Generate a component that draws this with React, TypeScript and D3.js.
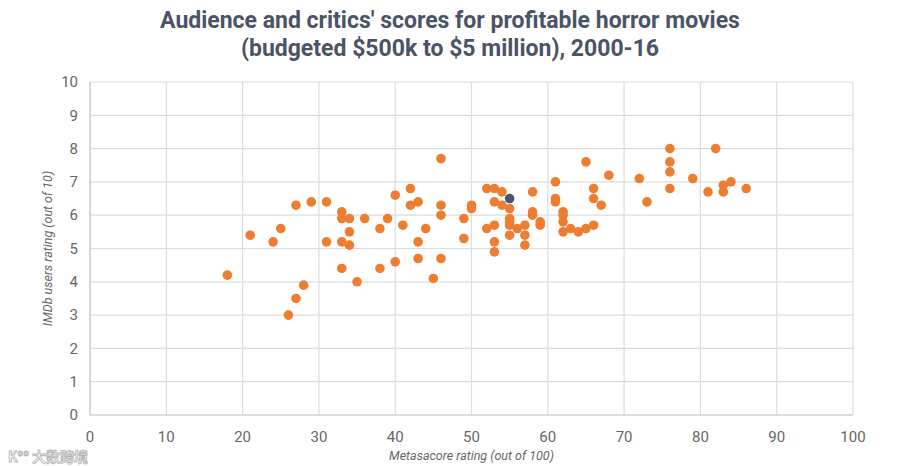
import { useEffect, useRef } from "react"
import * as d3 from "d3"

// metascore (out of 100) and IMDb rating (out of 10), one entry per film
const metascores = [
  18, 21, 24, 25, 26, 27, 27, 28, 29, 31, 31, 33, 33, 33, 33, 34, 34, 34, 35, 36,
  38, 38, 39, 40, 40, 41, 42, 42, 43, 43, 43, 44, 45, 46, 46, 46, 46, 49, 49, 50,
  50, 52, 52, 53, 53, 53, 53, 53, 54, 54, 55, 55, 55, 55, 55, 55, 56, 57, 57, 57,
  58, 58, 58, 59, 59, 61, 61, 61, 62, 62, 62, 62, 63, 64, 65, 65, 66, 66, 66, 67,
  68, 72, 73, 76, 76, 76, 76, 79, 81, 82, 83, 83, 84, 86,
]
const imdbRatings = [
  4.2, 5.4, 5.2, 5.6, 3.0, 3.5, 6.3, 3.9, 6.4, 6.4, 5.2, 6.1, 5.9, 5.2, 4.4, 5.9, 5.5, 5.1, 4.0, 5.9,
  5.6, 4.4, 5.9, 6.6, 4.6, 5.7, 6.8, 6.3, 6.4, 5.2, 4.7, 5.6, 4.1, 7.7, 6.3, 6.0, 4.7, 5.9, 5.3, 6.3,
  6.2, 6.8, 5.6, 6.8, 6.4, 5.7, 5.2, 4.9, 6.7, 6.3, 6.5, 6.2, 5.9, 5.8, 5.7, 5.4, 5.6, 5.7, 5.4, 5.1,
  6.7, 6.1, 6.0, 5.8, 5.7, 7.0, 6.5, 6.4, 6.1, 6.0, 5.8, 5.5, 5.6, 5.5, 5.6, 7.6, 5.7, 6.8, 6.5, 6.3,
  7.2, 7.1, 6.4, 8.0, 7.6, 7.3, 6.8, 7.1, 6.7, 8.0, 6.9, 6.7, 7.0, 6.8,
]
// index of the film drawn in the dark highlight colour
const highlightIndex = 50

const xTicks = [0, 10, 20, 30, 40, 50, 60, 70, 80, 90, 100]
const yTicks = [0, 1, 2, 3, 4, 5, 6, 7, 8, 9, 10]

const titleLines = [
  "Audience and critics' scores for profitable horror movies",
  "(budgeted $500k to $5 million), 2000-16",
]

export default function App() {
  const ref = useRef<HTMLDivElement>(null)

  useEffect(() => {
    document.body.style.margin = "0"
    const container = d3.select(ref.current)
    container.selectAll("*").remove()

    const width = 900
    const height = 466
    const margin = { top: 82, right: 47, bottom: 51, left: 90 }

    const svg = container
      .append("svg")
      .attr("width", width)
      .attr("height", height)
      .style("display", "block")
      .style("background", "#ffffff")
      .style("font-family", "Roboto, 'Noto Sans', sans-serif")

    const x = d3.scaleLinear().domain([0, 100]).range([margin.left, width - margin.right])
    const y = d3.scaleLinear().domain([0, 10]).range([height - margin.bottom, margin.top])

    // Title
    svg.append("text")
      .attr("x", 450)
      .attr("y", 28)
      .attr("text-anchor", "middle")
      .attr("font-size", 23)
      .attr("font-weight", "bold")
      .attr("fill", "#4a5466")
      .selectAll("tspan")
      .data(titleLines)
      .join("tspan")
      .attr("x", 450)
      .attr("dy", (_, i) => (i === 0 ? 0 : 28))
      .text(d => d)

    // Grid
    const grid = svg.append("g")
    grid.selectAll("line.h")
      .data(yTicks.slice(1))
      .join("line")
      .attr("class", "h")
      .attr("x1", x(0))
      .attr("x2", x(100))
      .attr("y1", d => y(d))
      .attr("y2", d => y(d))
      .attr("stroke", "#dcdcdc")
      .attr("stroke-width", 1.2)

    grid.selectAll("line.v")
      .data(xTicks.slice(1))
      .join("line")
      .attr("class", "v")
      .attr("x1", d => x(d))
      .attr("x2", d => x(d))
      .attr("y1", y(0))
      .attr("y2", y(10))
      .attr("stroke", "#dcdcdc")
      .attr("stroke-width", 1.2)

    // Axis lines
    svg.append("line")
      .attr("x1", x(0)).attr("x2", x(100))
      .attr("y1", y(0)).attr("y2", y(0))
      .attr("stroke", "#bdbdbd").attr("stroke-width", 1.2)
    svg.append("line")
      .attr("x1", x(0)).attr("x2", x(0))
      .attr("y1", y(0)).attr("y2", y(10))
      .attr("stroke", "#bdbdbd").attr("stroke-width", 1.2)

    // Tick labels
    svg.append("g")
      .selectAll("text")
      .data(yTicks)
      .join("text")
      .attr("x", x(0) - 12)
      .attr("y", d => y(d))
      .attr("dy", "0.35em")
      .attr("text-anchor", "end")
      .attr("font-size", 15)
      .attr("fill", "#666666")
      .text(d => d)

    svg.append("g")
      .selectAll("text")
      .data(xTicks)
      .join("text")
      .attr("x", d => x(d))
      .attr("y", y(0) + 27)
      .attr("text-anchor", "middle")
      .attr("font-size", 15)
      .attr("fill", "#666666")
      .text(d => d)

    // Axis titles
    svg.append("text")
      .attr("x", (x(0) + x(100)) / 2)
      .attr("y", height - 6)
      .attr("text-anchor", "middle")
      .attr("font-size", 12.5)
      .attr("font-style", "italic")
      .attr("fill", "#666666")
      .text("Metasacore rating (out of 100)")

    svg.append("text")
      .attr("transform", `translate(52,${(y(0) + y(10)) / 2}) rotate(-90)`)
      .attr("text-anchor", "middle")
      .attr("font-size", 12.5)
      .attr("font-style", "italic")
      .attr("fill", "#666666")
      .text("IMDb users rating (out of 10)")

    // Points
    const points = metascores.map((m, i) => ({ m, r: imdbRatings[i], hi: i === highlightIndex }))
    svg.append("g")
      .selectAll("circle")
      .data(points.filter(p => !p.hi).concat(points.filter(p => p.hi)))
      .join("circle")
      .attr("cx", d => x(d.m))
      .attr("cy", d => y(d.r))
      .attr("r", 4.8)
      .attr("fill", d => (d.hi ? "#44546a" : "#ed7d31"))

    // Watermark
    svg.append("text")
      .attr("x", 8)
      .attr("y", 462)
      .attr("font-size", 14)
      .attr("font-weight", "bold")
      .attr("fill", "#f4f4f4")
      .attr("stroke", "#b5b5b5")
      .attr("stroke-width", 0.8)
      .attr("font-family", "'Noto Sans CJK SC', sans-serif")
      .text("K°° 大数跨境")
  }, [])

  return <div ref={ref} />
}
